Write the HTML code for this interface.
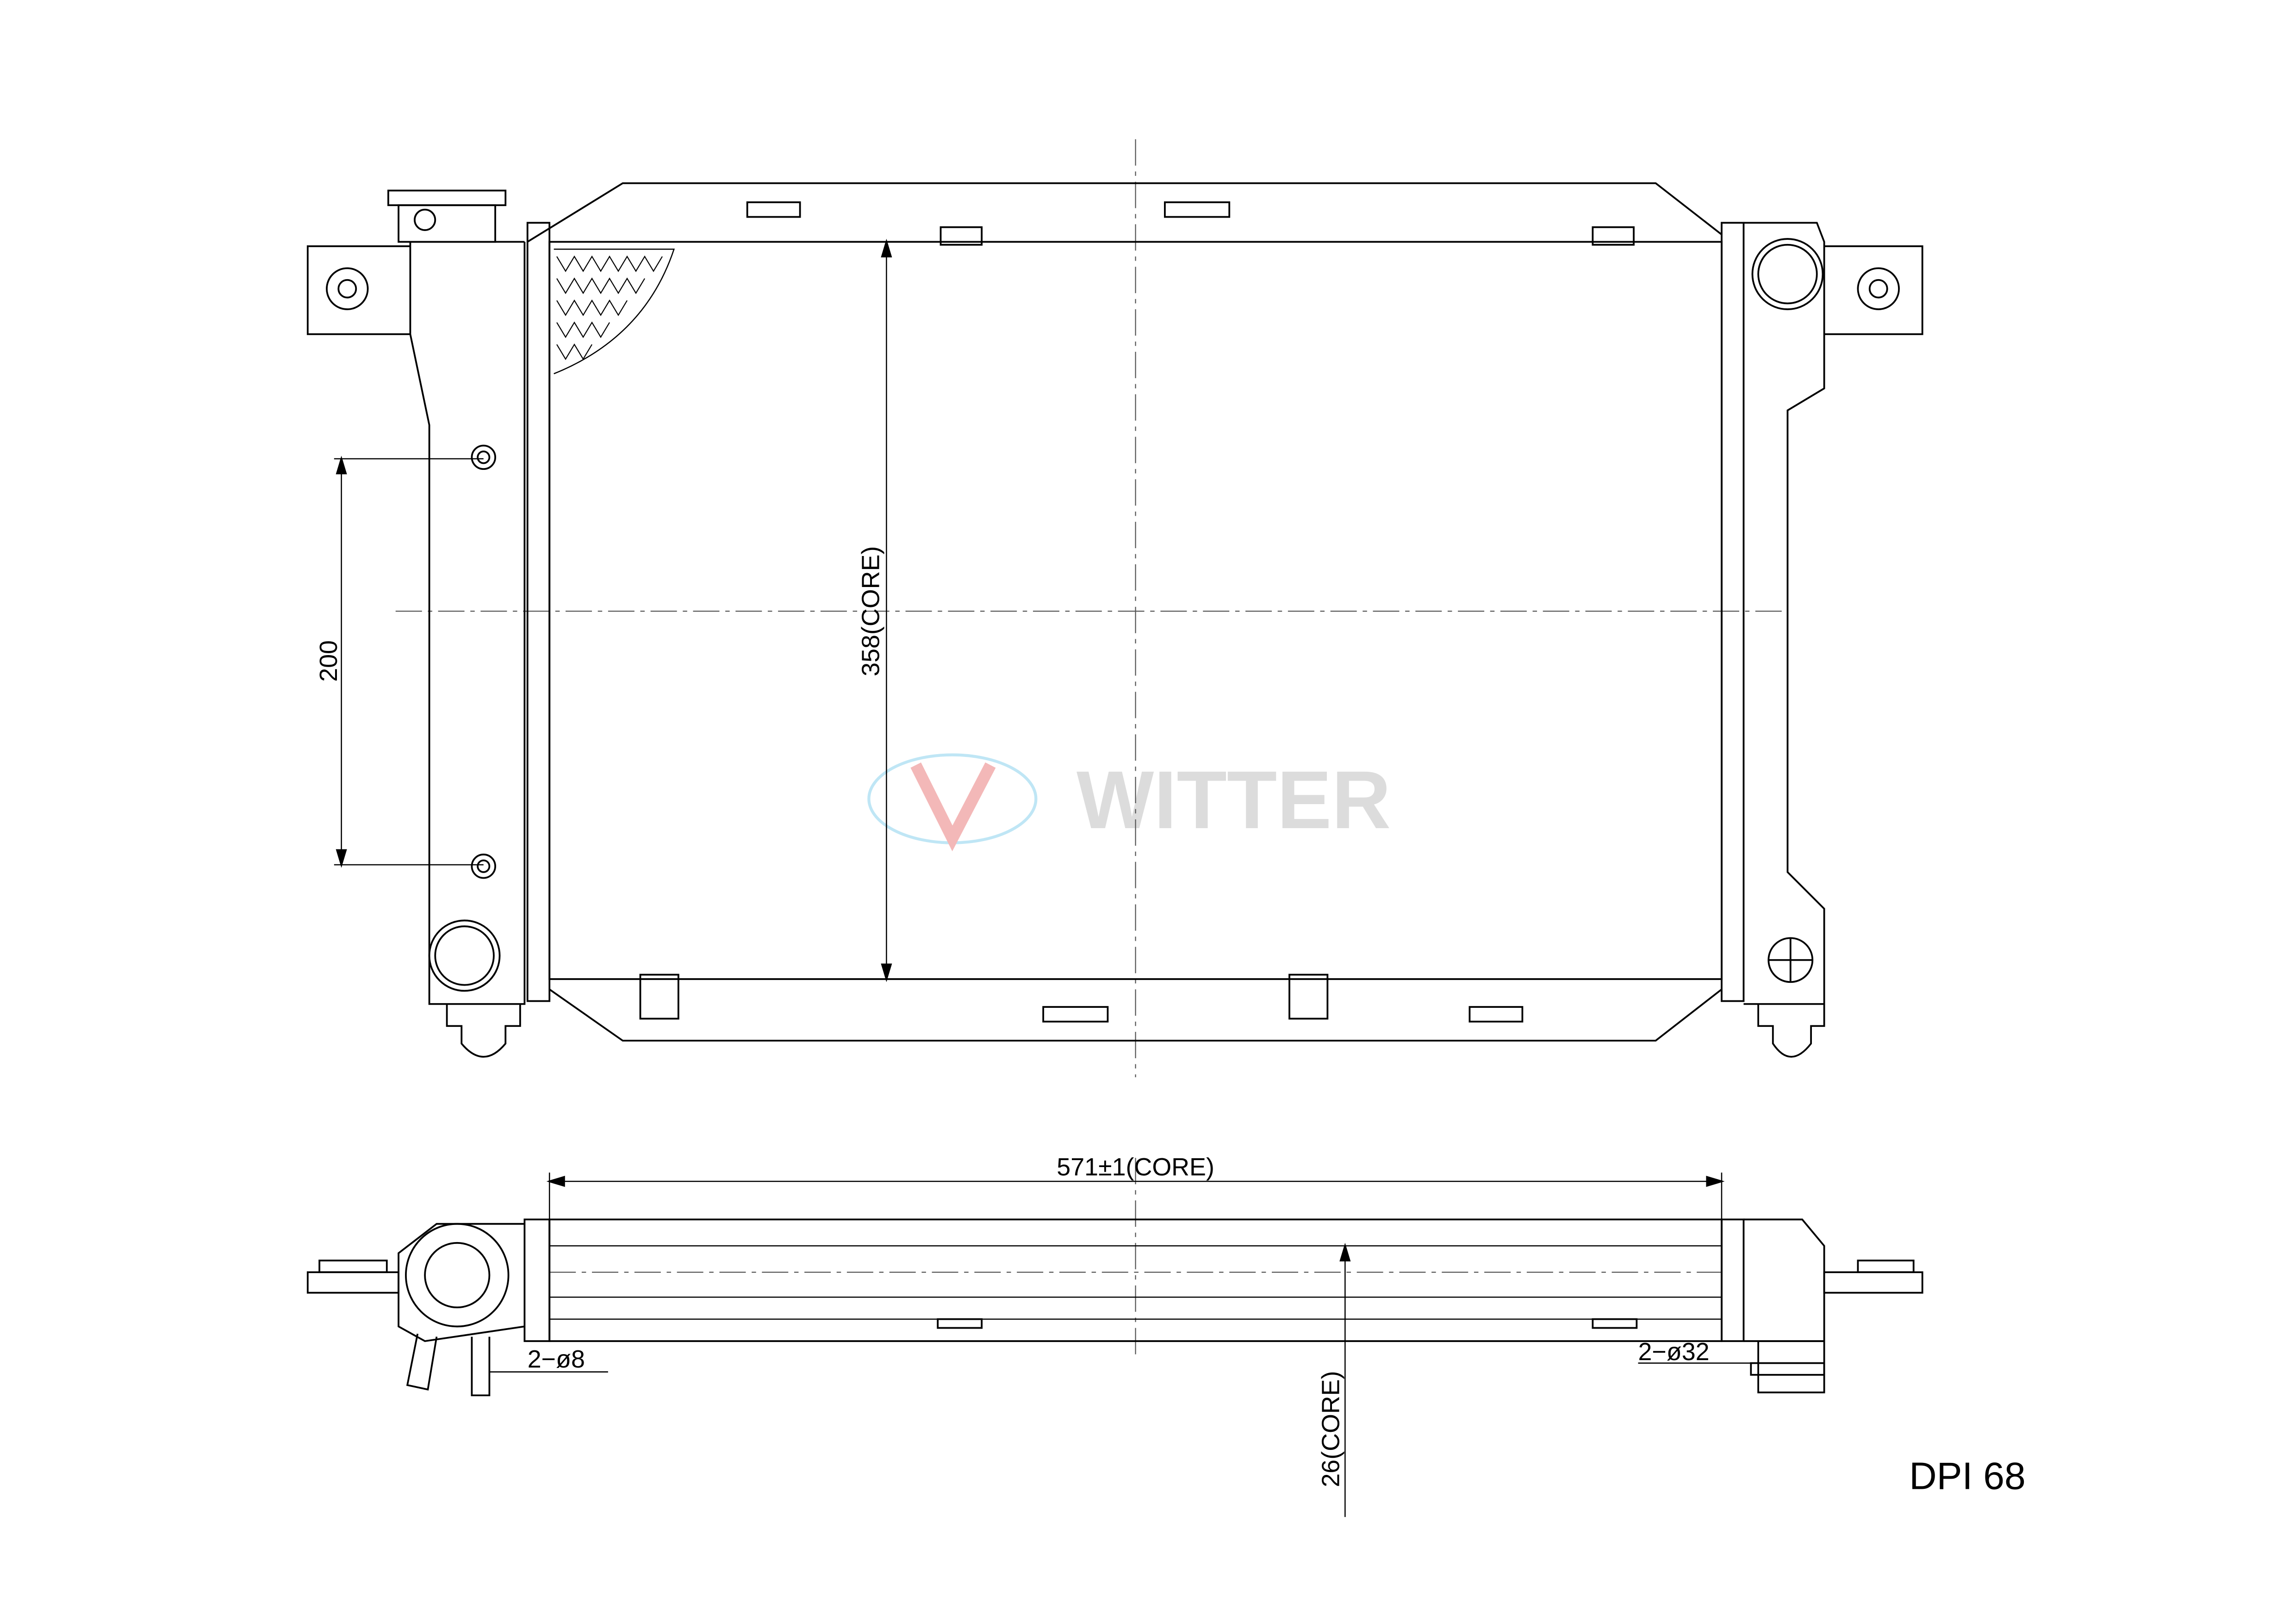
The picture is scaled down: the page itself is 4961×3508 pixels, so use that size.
<!DOCTYPE html>
<html><head><meta charset="utf-8"><style>html,body{margin:0;padding:0;background:#fff}svg{display:block}</style></head>
<body>
<svg width="4961" height="3508" viewBox="0 0 1567 1108" preserveAspectRatio="none" xmlns="http://www.w3.org/2000/svg" font-family="Liberation Sans, sans-serif">
<rect width="1567" height="1108" fill="#fff"/>
<ellipse cx="650" cy="545" rx="57" ry="30" fill="none" stroke="#bfe6f5" stroke-width="2"/>
<path d="M625 522 L650 572 L676 522" fill="none" stroke="#f3b8b8" stroke-width="8"/>
<text x="842" y="565" font-size="56" font-weight="bold" fill="#dcdcdc" text-anchor="middle">WITTER</text>
<g fill="none" stroke="#000" stroke-width="1.2">
<g stroke-width="0.7" stroke-dasharray="18,4,3,4" stroke="#555">
<line x1="775" y1="95" x2="775" y2="735"/><line x1="270" y1="417" x2="1220" y2="417"/>
<line x1="775" y1="790" x2="775" y2="925"/><line x1="375" y1="868" x2="1175" y2="868"/>
</g>
<path d="M360 165 L425 125 L1130 125 L1175 160"/>
<path d="M375 675 L425 710 L1130 710 L1175 675"/>
<rect x="375" y="165" width="800" height="503"/>
<rect x="360" y="152" width="15" height="531"/>
<rect x="1175" y="152" width="15" height="531"/>
<path d="M358 165 L280 165 L280 228 L293 290 L293 685 L358 685 L358 165"/>
<path d="M1190 152 L1240 152 L1245 165 L1245 265 L1220 280 L1220 595 L1245 620 L1245 685 L1190 685"/>
<rect x="510" y="138" width="36" height="10"/><rect x="795" y="138" width="44" height="10"/>
<rect x="712" y="687" width="44" height="10"/><rect x="1003" y="687" width="36" height="10"/>
<rect x="642" y="155" width="28" height="12"/><rect x="1087" y="155" width="28" height="12"/>
<rect x="437" y="665" width="26" height="30"/><rect x="880" y="665" width="26" height="30"/>
<path d="M378 170 L460 170 Q440 230 378 255" stroke-width="0.8"/>
<path d="M380 175 l6 10 l6 -10 l6 10 l6 -10 l6 10 l6 -10 l6 10 l6 -10 l6 10 l6 -10 l6 10 l6 -10 M380 190 l6 10 l6 -10 l6 10 l6 -10 l6 10 l6 -10 l6 10 l6 -10 l6 10 l6 -10 M380 205 l6 10 l6 -10 l6 10 l6 -10 l6 10 l6 -10 l6 10 l6 -10 M380 220 l6 10 l6 -10 l6 10 l6 -10 l6 10 l6 -10 M380 235 l6 10 l6 -10 l6 10 l6 -10" stroke-width="0.7"/>
<path d="M280 168 L210 168 L210 228 L280 228"/><circle cx="237" cy="197" r="14"/><circle cx="237" cy="197" r="6"/>
<path d="M1245 168 L1312 168 L1312 228 L1245 228"/><circle cx="1282" cy="197" r="14"/><circle cx="1282" cy="197" r="6"/>
<circle cx="1220" cy="187" r="24"/><circle cx="1220" cy="187" r="20"/>
<circle cx="317" cy="652" r="24"/><circle cx="317" cy="652" r="20"/>
<circle cx="330" cy="312" r="8"/><circle cx="330" cy="312" r="4"/>
<circle cx="330" cy="591" r="8"/><circle cx="330" cy="591" r="4"/>
<circle cx="1222" cy="655" r="15"/><path d="M1207 655 H1237 M1222 640 V670"/>
<rect x="265" y="130" width="80" height="10"/><rect x="272" y="140" width="66" height="25"/>
<circle cx="290" cy="150" r="7"/>
<path d="M305 685 L305 700 L315 700 L315 712 Q330 730 345 712 L345 700 L355 700 L355 685"/>
<path d="M1200 685 L1200 700 L1210 700 L1210 712 Q1222 730 1236 712 L1236 700 L1245 700 L1245 685"/>
<path d="M233 313 V590 M228 313 H330 M228 590 H330" stroke-width="0.8"/>
<path d="M605 165 V668" stroke-width="0.8"/>
<path d="M605 165 l-3 10 h6 z M605 668 l-3 -10 h6 z M233 313 l-3 10 h6z M233 590 l-3 -10 h6z" fill="#000"/>
<path d="M375 806 H1175 M375 800 V832 M1175 800 V832" stroke-width="0.8"/>
<path d="M375 806 l10 -3 v6z M1175 806 l-10 -3 v6z" fill="#000"/>
<rect x="375" y="832" width="800" height="83"/>
<path d="M375 850 H1175 M375 900 H1175 M375 885 H1175" stroke-width="0.8"/>
<rect x="358" y="832" width="17" height="83"/>
<rect x="1175" y="832" width="15" height="83"/>
<path d="M1190 832 H1230 L1245 850 V880 H1245 V915 H1190"/>
<rect x="1200" y="915" width="45" height="35"/><rect x="1195" y="930" width="50" height="8"/>
<path d="M358 835 L298 835 L272 855 L272 905 L290 915 L358 905"/>
<circle cx="312" cy="870" r="35"/><circle cx="312" cy="870" r="22"/>
<rect x="210" y="868" width="62" height="14"/><rect x="218" y="860" width="46" height="8"/>
<rect x="1245" y="868" width="67" height="14"/><rect x="1268" y="860" width="38" height="8"/>
<path d="M285 910 L278 945 L292 948 L298 912"/><path d="M322 912 V952 H334 V912"/>
<rect x="640" y="900" width="30" height="6"/><rect x="1087" y="900" width="30" height="6"/>
<path d="M918 850 V1035" stroke-width="0.8"/><path d="M918 850 l-3 10 h6z" fill="#000"/>
<path d="M334 936 H415 M1118 930 H1200" stroke-width="0.8"/>
</g>
<g font-size="17" fill="#000">
<text x="775" y="802" text-anchor="middle">571±1(CORE)</text>
<text x="600" y="417" text-anchor="middle" transform="rotate(-90 600 417)">358(CORE)</text>
<text x="230" y="451" text-anchor="middle" transform="rotate(-90 230 451)">200</text>
<text x="914" y="975" text-anchor="middle" transform="rotate(-90 914 975)">26(CORE)</text>
<text x="360" y="933">2−ø8</text>
<text x="1118" y="928">2−ø32</text>
</g>
<text x="1303" y="1016" font-size="26" fill="#000">DPI 68</text>
</svg>
</body></html>
